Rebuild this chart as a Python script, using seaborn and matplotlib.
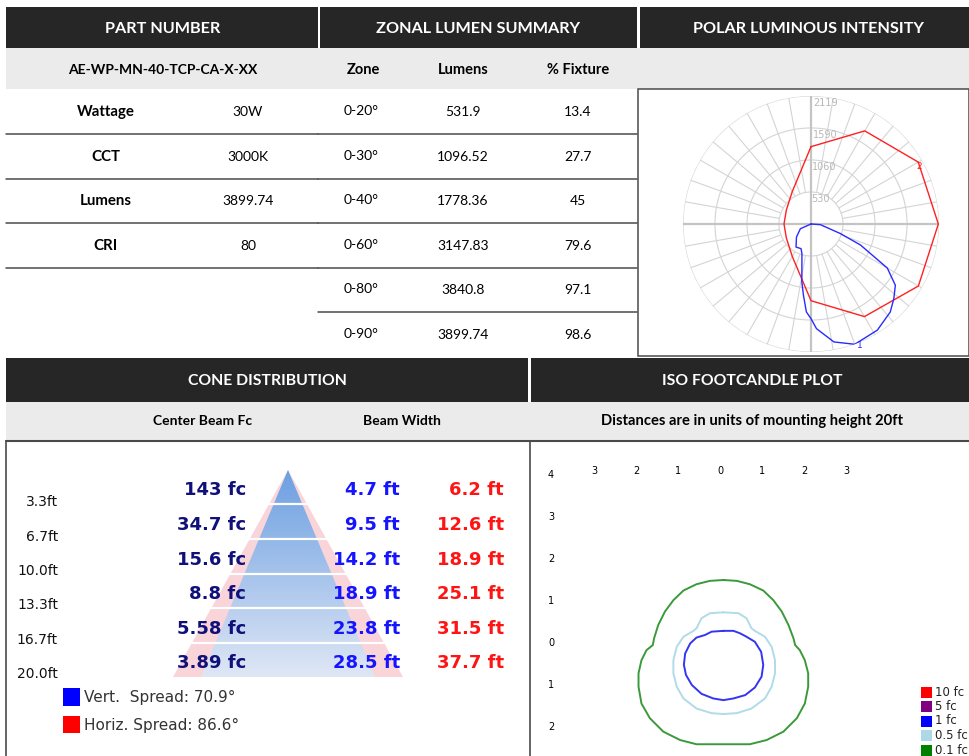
import numpy as np
import matplotlib
matplotlib.use('Agg')
import matplotlib.pyplot as plt
import matplotlib.patches as mpatches
from matplotlib.colors import LinearSegmentedColormap
import seaborn as sns

# ---- data ----
part_number = 'AE-WP-MN-40-TCP-CA-X-XX'
spec_labels = ['Wattage', 'CCT', 'Lumens', 'CRI']
spec_values = ['30W', '3000K', '3899.74', '80']

zones = ['0-20°', '0-30°', '0-40°', '0-60°', '0-80°', '0-90°']
zone_lumens = [531.9, 1096.52, 1778.36, 3147.83, 3840.8, 3899.74]
zone_pct = [13.4, 27.7, 45, 79.6, 97.1, 98.6]

# polar candela curves (angle deg clockwise from top, candela)
polar_rings = [530, 1060, 1590, 2119]
horiz_angles = [0, 30, 60, 90, 120, 150, 180, 210, 240, 270, 300, 330, 360]
horiz_cd = [1280, 1780, 2050, 2108, 2053, 1770, 1270, 620, 470, 447, 470, 620, 1280]
vert_angles = [90, 94, 108, 113, 120, 126, 132, 138, 148, 160, 169, 177, 180, 183,
               186, 189, 197, 202, 213, 228, 246, 270]
vert_cd = [0, 155, 511, 890, 1459, 1726, 1845, 1961, 2072, 2119, 1989, 1735, 1567, 1458,
           1190, 971, 513, 440, 455, 324, 193, 0]

# cone distribution
cone_heights = [3.3, 6.7, 10.0, 13.3, 16.7, 20.0]
center_fc = ['143', '34.7', '15.6', '8.8', '5.58', '3.89']
vert_width = [4.7, 9.5, 14.2, 18.9, 23.8, 28.5]
horiz_width = [6.2, 12.6, 18.9, 25.1, 31.5, 37.7]
vert_spread = 70.9
horiz_spread = 86.6

# iso footcandle contours (units of mounting height)
iso_levels = ['10 fc', '5 fc', '1 fc', '0.5 fc', '0.1 fc']
iso_colors = ['#ff0000', '#800080', '#0000ff', '#add8e6', '#008000']
iso_01_x = [0.08, -0.24, -0.56, -0.87, -1.11, -1.31, -1.47, -1.57, -1.60, -1.75, -1.87, -1.94,
            -1.94, -1.87, -1.67, -1.35, -0.95, -0.56, 0.08, 0.71, 1.11, 1.51, 1.83, 2.02, 2.10,
            2.10, 2.02, 1.90, 1.79, 1.75, 1.63, 1.47, 1.27, 1.03, 0.71, 0.40, 0.08]
iso_01_y = [1.54, 1.52, 1.44, 1.29, 1.06, 0.79, 0.47, 0.15, -0.01, -0.13, -0.37, -0.68,
            -1.0, -1.40, -1.75, -2.07, -2.27, -2.37, -2.37, -2.37, -2.27, -2.07, -1.75, -1.40, -1.0,
            -0.68, -0.37, -0.13, -0.01, 0.15, 0.47, 0.79, 1.06, 1.29, 1.44, 1.52, 1.54]
iso_05_x = [0.08, -0.24, -0.44, -0.56, -0.63, -0.87, -1.03, -1.11, -1.11, -1.03, -0.87, -0.56,
            -0.20, 0.08, 0.40, 0.75, 1.07, 1.23, 1.31, 1.31, 1.23, 1.07, 0.83, 0.75, 0.63, 0.44, 0.08]
iso_05_y = [0.77, 0.75, 0.63, 0.39, 0.33, 0.19, -0.05, -0.37, -0.68, -1.0, -1.28, -1.52,
            -1.63, -1.65, -1.63, -1.52, -1.28, -1.0, -0.68, -0.37, -0.05, 0.19, 0.33, 0.39, 0.63, 0.75, 0.77]
iso_1_x = [0.08, -0.20, -0.36, -0.56, -0.71, -0.83, -0.86, -0.81, -0.67, -0.44, -0.16, 0.08,
           0.32, 0.60, 0.83, 0.99, 1.03, 0.98, 0.83, 0.63, 0.48, 0.32, 0.08]
iso_1_y = [0.33, 0.31, 0.23, 0.17, 0.03, -0.21, -0.48, -0.72, -0.96, -1.17, -1.28, -1.32,
           -1.28, -1.20, -1.02, -0.76, -0.48, -0.17, 0.07, 0.19, 0.27, 0.33, 0.33]
iso_x_ticks = [-3, -2, -1, 0, 1, 2, 3]
iso_y_ticks = [4, 3, 2, 1, 0, -1, -2]

W, H = 970, 756
DARK = '#262626'
LIGHT = '#ebebeb'
RULE = '#4a4a4a'

sns.set_theme(style='white')
plt.rcParams['font.family'] = ['Lato', 'DejaVu Sans']


def frac(x0, y0, x1, y1):
    return [x0 / W, 1 - y1 / H, (x1 - x0) / W, (y1 - y0) / H]


fig = plt.figure(figsize=(9.7, 7.56), dpi=100)
sheet = fig.add_axes([0, 0, 1, 1])
sheet.set_xlim(0, W)
sheet.set_ylim(H, 0)
sheet.axis('off')


def box(x0, y0, x1, y1, fc, ec='none', lw=0):
    sheet.add_patch(mpatches.Rectangle((x0, y0), x1 - x0, y1 - y0, facecolor=fc,
                                       edgecolor=ec, linewidth=lw))


def hdr(txt, x, y, color='white', size=11.7, weight='bold'):
    sheet.text(x, y, txt, ha='center', va='center', color=color, fontsize=size,
               fontweight=weight)


# ---- top table ----
box(6, 7, 318, 48, DARK)
box(320, 7, 637, 48, DARK)
box(640, 7, 970, 48, DARK)
box(6, 48, 970, 89, LIGHT)
hdr('PART NUMBER', 163, 29)
hdr('ZONAL LUMEN SUMMARY', 478, 29)
hdr('POLAR LUMINOUS INTENSITY', 808, 29)
hdr(part_number, 163, 70, color='black', size=10)
hdr('Zone', 363, 70, color='black', size=10.5)
hdr('Lumens', 463, 70, color='black', size=10.5)
hdr('% Fixture', 578, 70, color='black', size=10.5)

row_y = [112, 157, 201, 246, 290, 335]
rule_y = [134, 179, 223, 268, 312]
for i, (lab, val) in enumerate(zip(spec_labels, spec_values)):
    hdr(lab, 106, row_y[i], color='black', size=10.8)
    hdr(val, 248, row_y[i], color='black', size=10, weight='normal')
    sheet.plot([6, 318], [rule_y[i], rule_y[i]], color=RULE, lw=1.1)
for i, z in enumerate(zones):
    hdr(z, 361, row_y[i] - 1, color='black', size=10, weight='normal')
    hdr(f'{zone_lumens[i]:g}', 463, row_y[i], color='black', size=10, weight='normal')
    hdr(f'{zone_pct[i]:g}', 578, row_y[i], color='black', size=10, weight='normal')
    if i < len(rule_y):
        sheet.plot([318, 637], [rule_y[i], rule_y[i]], color=RULE, lw=1.1)

box(638, 89, 969, 356, 'white', ec=RULE, lw=1.1)

# ---- bottom headers ----
box(6, 358, 528, 402, DARK)
box(531, 358, 970, 402, DARK)
box(6, 402, 970, 441, LIGHT)
hdr('CONE DISTRIBUTION', 267, 381, size=11.3)
hdr('ISO FOOTCANDLE PLOT', 752, 381, size=11.3)
hdr('Center Beam Fc', 203, 421, color='black', size=10)
hdr('Beam Width', 402, 421, color='black', size=10)
hdr('Distances are in units of mounting height 20ft', 752, 421, color='black', size=10.6)
sheet.plot([6, 970], [441, 441], color=RULE, lw=1.5)
sheet.plot([6, 6], [441, 756], color=RULE, lw=1.2)
sheet.plot([530, 530], [441, 756], color=RULE, lw=1.2)

# ---- polar luminous intensity ----
cx, cy, rad = 811, 224, 128
pax = fig.add_axes(frac(cx - rad, cy - rad, cx + rad, cy + rad), projection='polar')
pax.set_theta_zero_location('N')
pax.set_theta_direction(-1)
pax.set_ylim(0, polar_rings[-1])
pax.grid(False)
pax.set_xticks([])
pax.set_yticks([])
pax.spines['polar'].set_visible(False)
pax.patch.set_alpha(0)
grid_t = np.linspace(0, 2 * np.pi, 361)
for r in polar_rings:
    pax.plot(grid_t, np.full_like(grid_t, r), color='#d4d4d4', lw=0.8)
for a in range(0, 360, 10):
    th = np.deg2rad(a)
    if a % 90 == 0:
        pax.plot([th, th], [0, polar_rings[-1]], color='#c4c4c4', lw=1.6)
    else:
        pax.plot([th, th], [polar_rings[0], polar_rings[-1]], color='#d4d4d4', lw=0.8)
for r in polar_rings:
    pax.text(np.deg2rad(1.2), r - 110, str(r), color='#b8b8b8', fontsize=7,
             family='DejaVu Sans', ha='left', va='center')
sns.lineplot(x=np.deg2rad(horiz_angles), y=horiz_cd, sort=False, estimator=None,
             color='#ff2020', lw=1.0, ax=pax)
sns.lineplot(x=np.deg2rad(vert_angles), y=vert_cd, sort=False, estimator=None,
             color='#2a2aff', lw=1.0, ax=pax)
pax.text(np.deg2rad(62), 2030, '2', color='#ff2020', fontsize=6.5, family='DejaVu Sans',
         ha='center', va='center')
pax.text(np.deg2rad(158), 2170, '1', color='#2a2aff', fontsize=6.5, family='DejaVu Sans',
         ha='center', va='center', clip_on=False)
pax.set_xlabel('')
pax.set_ylabel('')

# ---- cone distribution ----
apex_x, apex_y, px_ft_x, px_ft_y = 288, 470, 6.1, 10.35
cax = fig.add_axes(frac(7, 442, 529, 755))
cax.axis('off')
top = cone_heights[-1]
pink = mpatches.Polygon([(0, 0), (-horiz_width[-1] / 2, top), (horiz_width[-1] / 2, top)],
                        closed=True, facecolor='#f9d4d9', edgecolor='none', zorder=1)
cax.add_patch(pink)
blue = mpatches.Polygon([(0, 0), (-vert_width[-1] / 2, top), (vert_width[-1] / 2, top)],
                        closed=True, facecolor='none', edgecolor='none', zorder=2)
cax.add_patch(blue)
cone_cmap = LinearSegmentedColormap.from_list('cone', ['#6c9fe2', '#dfe7f5'])
grad = np.linspace(0, 1, 256).reshape(-1, 1)
img = cax.imshow(grad, extent=[-vert_width[-1] / 2, vert_width[-1] / 2, top, 0],
                 cmap=cone_cmap, aspect='auto', zorder=2)
img.set_clip_path(blue)
for h, hw in zip(cone_heights[:-1], horiz_width[:-1]):
    cax.plot([-hw / 2, hw / 2], [h, h], color='white', lw=1.6, zorder=3)
cax.set_xlim((7 - apex_x) / px_ft_x, (529 - apex_x) / px_ft_x)
cax.set_ylim((755 - apex_y) / px_ft_y, (442 - apex_y) / px_ft_y)

bold_kw = dict(family='DejaVu Sans', fontweight='bold', fontsize=13, ha='right',
               va='center', zorder=4)
for i, h in enumerate(cone_heights):
    ty = h - 1.35
    cax.text((246 - apex_x) / px_ft_x, ty, f'{center_fc[i]} fc', color='#10107a', **bold_kw)
    cax.text((400 - apex_x) / px_ft_x, ty, f'{vert_width[i]:g} ft', color='#1414ff', **bold_kw)
    cax.text((504 - apex_x) / px_ft_x, ty, f'{horiz_width[i]:g} ft', color='#ff1414', **bold_kw)
    cax.text((58 - apex_x) / px_ft_x, h - 0.25, f'{h:.1f}ft', color='#111111',
             family='DejaVu Sans', fontsize=10, ha='right', va='center')

box(63, 688, 80, 706, '#0000ff')
box(63, 716, 80, 733, '#ff0000')
sheet.text(84, 697, f'Vert.  Spread: {vert_spread}°', color='#333333', fontsize=11,
           family='DejaVu Sans', va='center', ha='left')
sheet.text(84, 725, f'Horiz. Spread: {horiz_spread}°', color='#333333', fontsize=11,
           family='DejaVu Sans', va='center', ha='left')

# ---- iso footcandle plot ----
ox, oy, unit = 720, 644.7, 42
iax = fig.add_axes(frac(532, 442, 970, 756))
iax.axis('off')
for xs, ys, col in [(iso_01_x, iso_01_y, '#3a9a3a'), (iso_05_x, iso_05_y, '#b0dbe8'),
                    (iso_1_x, iso_1_y, '#3535f0')]:
    sns.lineplot(x=xs, y=ys, sort=False, estimator=None, color=col, lw=1.4, ax=iax)
for t in iso_x_ticks:
    iax.text(t, (oy - 471) / unit, str(abs(t)), fontsize=7, family='DejaVu Sans',
             ha='center', va='center', color='black')
for t in iso_y_ticks:
    iax.text((551 - ox) / unit, t + 0.03, str(abs(t)), fontsize=7, family='DejaVu Sans',
             ha='center', va='center', color='black')
iax.set_xlabel('')
iax.set_ylabel('')
iax.set_xlim((532 - ox) / unit, (970 - ox) / unit)
iax.set_ylim((oy - 756) / unit, (oy - 442) / unit)

for i, (lab, col) in enumerate(zip(iso_levels, iso_colors)):
    yy = 692 + i * 14.5
    box(921, yy - 5.5, 932, yy + 5.5, col)
    sheet.text(935, yy, lab, fontsize=8.5, family='DejaVu Sans', va='center', ha='left',
               color='#222222')

fig.savefig('out.png', dpi=100)
